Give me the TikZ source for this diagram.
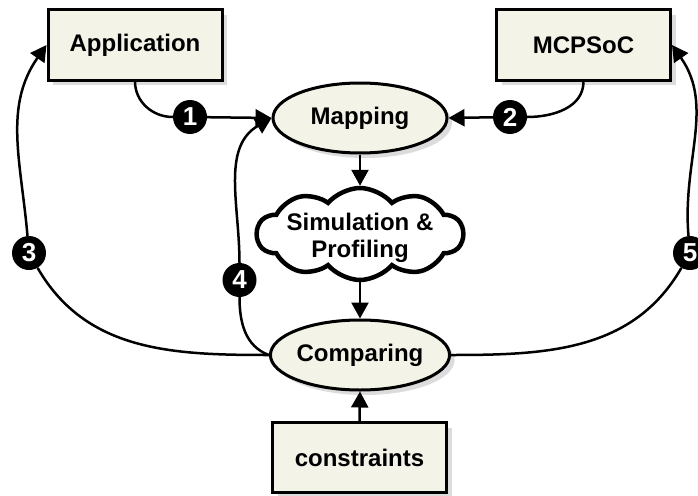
\documentclass[tikz,border=0pt]{standalone}
\usepackage{fontspec}
\setmainfont{Liberation Sans}
\usetikzlibrary{arrows.meta,shapes.geometric,shapes.symbols,shadows}
\definecolor{cream}{RGB}{243,243,232}
\begin{document}
\begin{tikzpicture}[x=1pt,y=-1pt,
            every node/.style={font=\fontsize{24}{27}\selectfont\bfseries},
            box/.style={rectangle, draw, line width=3pt, fill=cream,
                minimum width=174pt, minimum height=70pt,
                drop shadow={shadow xshift=5pt, shadow yshift=-5pt, fill=gray!55}},
            oval/.style={ellipse, draw, line width=3pt, fill=cream, inner sep=0pt,
                minimum width=174pt, minimum height=70pt,
                drop shadow={shadow xshift=5pt, shadow yshift=-5pt, fill=gray!55}},
            blob/.style={cloud, cloud puffs=10, cloud puff arc=100, cloud ignores aspect,
                draw, line width=4.5pt, fill=white, inner sep=0pt,
                minimum width=206pt, minimum height=92pt},
            badge/.style={circle, fill=black, text=white, inner sep=0pt, minimum size=34pt,
                font=\fontsize{26}{26}\selectfont\bfseries},
            conn/.style={line width=2.5pt, -{Triangle[length=16pt,width=17pt]}},
            line/.style={line width=2.5pt}]
            \useasboundingbox (0,0) rectangle (698,495);
            \node[box] (app) at (135,45) {Application};
            \node[box] (mcp) at (583.5,45) {MCPSoC};
            \node[oval] (map) at (360,118) {Mapping};
            \node[blob, label={[align=center, yshift=-4pt]center:Simulation \&\\Profiling}] (sim) at (360,234) {};
            \node[oval] (cmp) at (360,355) {Comparing};
            \node[box] (cons) at (359.5,457.5) {constraints};
            \node[badge] (m1) at (190,117) {1};
            \node[badge] (m2) at (510,117) {2};
            \node[badge] (m3) at (29,253) {3};
            \node[badge] (m4) at (239.5,280) {4};
            \node[badge] (m5) at (690,253) {5};
            % steps 1 and 2
            \draw[line] (app.south) to[out=-90,in=180] (m1);
            \draw[conn] (m1) -- (map.west);
            \draw[line] (mcp.south) to[out=-90,in=0] (m2);
            \draw[conn] (m2) -- (map.east);
            % main flow
            \draw[conn] (map.south) -- (sim.north);
            \draw[conn] (sim.south) -- (cmp.north);
            \draw[conn] (cons.north) -- (cmp.south);
            % feedback loops
            \draw[line] (cmp.west) to[out=180,in=-60] (m3);
            \draw[conn] (m3) to[out=95,in=-125] (app.west);
            \draw[line] (cmp.west) to[out=160,in=-90] (m4);
            \draw[conn] (m4) to[out=90,in=-150] (map.west);
            \draw[line] (cmp.east) to[out=0,in=-120] (m5);
            \draw[conn] (m5) to[out=95,in=-55] (mcp.east);
\end{tikzpicture}
\end{document}
